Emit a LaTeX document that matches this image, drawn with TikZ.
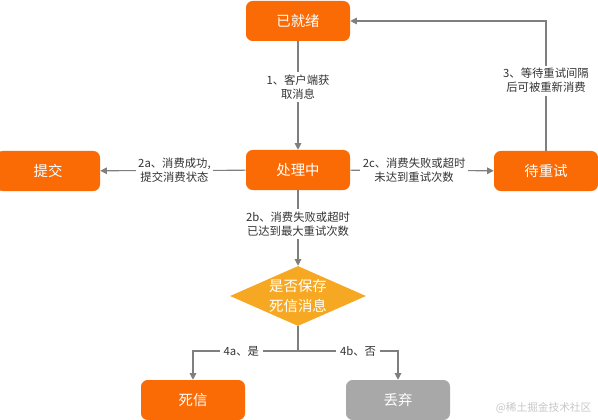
\documentclass[tikz,border=0pt]{standalone}
\usepackage{fontspec}
\setmainfont{Noto Sans CJK SC}
\usetikzlibrary{arrows.meta,shapes.geometric}
\definecolor{aliorange}{HTML}{FA6B05}
\definecolor{diayellow}{HTML}{F7A823}
\definecolor{boxgray}{HTML}{A8A8A8}
\definecolor{linegray}{HTML}{7F7F7F}
\definecolor{txtdark}{HTML}{333333}
\tikzset{
  box/.style={rectangle, rounded corners=5pt, fill=aliorange, text=white,
    minimum width=78pt, minimum height=30pt, inner sep=0pt, font=\fontsize{10.8}{12}\selectfont},
  graybox/.style={box, fill=boxgray},
  decision/.style={diamond, aspect=2.27, fill=diayellow, text=white, inner sep=0pt,
    minimum width=102pt, minimum height=45pt, align=center,
    font=\fontsize{10.8}{15}\selectfont},
  lbl/.style={fill=white, text=txtdark, align=center, inner sep=2pt,
    font=\fontsize{8.5}{10.5}\selectfont},
  conn/.style={draw=linegray, line width=0.8pt, -{Triangle[width=5pt,length=5pt]}},
  plain/.style={draw=linegray, line width=0.8pt},
}
\begin{document}
\begin{tikzpicture}[x=0.75pt,y=-0.75pt]
\useasboundingbox (0,0) rectangle (598,420);
\node[box] (ready) at (298,21) {已就绪};
\node[box] (proc) at (298,170) {处理中};
\node[box] (submit) at (48,171) {提交};
\node[box] (retry) at (546,171) {待重试};
\node[decision] (dec) at (298,296) {是否保存\\死信消息};
\node[box] (dead) at (193,400) {死信};
\node[graybox] (drop) at (398,400) {丢弃};
\coordinate (split) at (298,351);

\draw[conn] (ready) -- node[lbl, pos=0.42] {1、客户端获\\取消息} (proc);
\draw[conn] (proc) -- node[lbl, pos=0.49] {2a、消费成功,\\提交消费状态} (submit);
\draw[conn] (proc) -- node[lbl, pos=0.445] {2c、消费失败或超时\\未达到重试次数} (retry);
\draw[conn] (retry.north) |- node[lbl, pos=0.27] {3、等待重试间隔\\后可被重新消费} (ready.east);
\draw[conn] (proc) -- node[lbl, pos=0.45] {2b、消费失败或超时\\已达到最大重试次数} (dec.north);
\draw[plain] (dec.south) -- (split);
\draw[conn] (split) -| node[lbl, pos=0.27, inner sep=3pt] {4a、是} (dead.north);
\draw[conn] (split) -| node[lbl, pos=0.3, inner sep=3pt] {4b、否} (drop.north);

\node[text=black!22, font=\fontsize{8}{10}\selectfont, anchor=east] (wm) at (596,408) {@稀土掘金技术社区};
\end{tikzpicture}
\end{document}
